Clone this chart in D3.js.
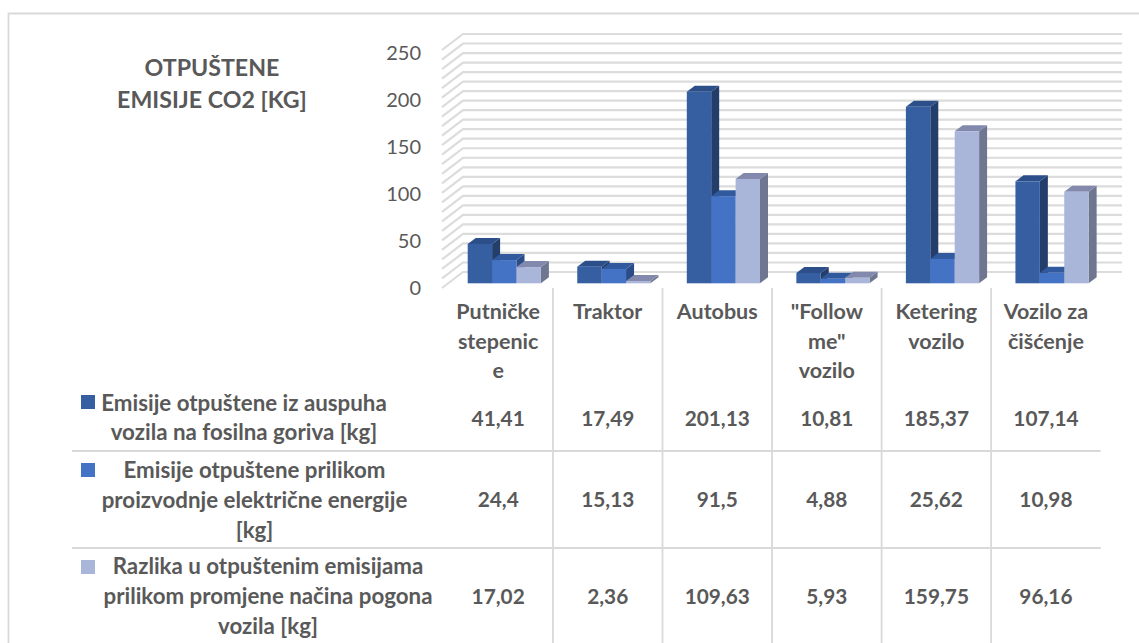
<!DOCTYPE html>
<html>
<head>
<meta charset="utf-8">
<title>Otpuštene emisije CO2</title>
<style>
html, body { margin: 0; padding: 0; background: #fff; overflow: hidden; }
text { font-family: Lato, 'Open Sans', sans-serif; fill: #595959; }
.tbl { font-weight: 700; font-size: 21.5px; text-anchor: middle; }
.val { font-weight: 700; font-size: 20.8px; text-anchor: middle; }
.leg { font-weight: 700; font-size: 22.3px; text-anchor: middle; }
.ttl { font-weight: 700; font-size: 23.2px; text-anchor: middle; }
.yaxis text { font-size: 20px; font-family: Lato, sans-serif; fill: #595959; }
.yaxis path { display: none; }
.grid { stroke: #dcdcdc; stroke-width: 2.2px; fill: none; }
.rule { stroke: #d9d9d9; stroke-width: 1.8px; fill: none; }
</style>
<script src="https://d3js.org/d3.v7.min.js"></script>
</head>
<body>
<svg width="1139" height="643"></svg>
<script>

var categories = ["Putničke stepenice", "Traktor", "Autobus", "\"Follow me\" vozilo", "Ketering vozilo", "Vozilo za čišćenje"];
var categoryLines = [["Putničke", "stepenic", "e"], ["Traktor"], ["Autobus"], ["\"Follow", "me\"", "vozilo"], ["Ketering", "vozilo"], ["Vozilo za", "čišćenje"]];

var fossil = [41.41, 17.49, 201.13, 10.81, 185.37, 107.14];
var electric = [24.4, 15.13, 91.5, 4.88, 25.62, 10.98];
var difference = [17.02, 2.36, 109.63, 5.93, 159.75, 96.16];
var valueLabels = [
  ["41,41", "17,49", "201,13", "10,81", "185,37", "107,14"],
  ["24,4", "15,13", "91,5", "4,88", "25,62", "10,98"],
  ["17,02", "2,36", "109,63", "5,93", "159,75", "96,16"]
];
var seriesNames = [
  ["Emisije otpuštene iz auspuha", "vozila na fosilna goriva [kg]"],
  ["Emisije otpuštene prilikom", "proizvodnje električne energije", "[kg]"],
  ["Razlika u otpuštenim emisijama", "prilikom promjene načina pogona", "vozila [kg]"]
];
var series = [fossil, electric, difference];

// front, side, top of each 3d bar
var colors = [
  ["#365fa2", "#243e6b", "#2c4f8a"],
  ["#4472c4", "#2a4c88", "#315a9e"],
  ["#a9b6da", "#6e778f", "#8289ac"]
];

var svg = d3.select("svg");

var x0 = d3.scaleBand().domain(categories).range([443.4, 1100.7]);
var x1 = d3.scaleBand().domain([0, 1, 2]).range([24.3, 97.5]);
var h = d3.scaleLinear().domain([0, 250]).range([0, 238]);

// frame
svg.append("path").attr("class", "rule").attr("d", "M8.5,643V13.5H1139");

// back wall + floor side gridlines
var wallBase = 272, frontBase = 288, wallX = 463, frontX = 442, wallEnd = 1122;
svg.append("g").selectAll("path")
  .data(h.ticks(25))
  .enter().append("path")
    .attr("class", "grid")
    .attr("d", function(d) {
      return "M" + frontX + "," + (frontBase - h(d)) +
             "L" + wallX + "," + (wallBase - h(d)) +
             "H" + wallEnd;
    });

// y axis
var yAxis = d3.scaleLinear().domain([0, 250]).range([287, 52]);
svg.append("g")
    .attr("class", "yaxis")
    .attr("transform", "translate(424,0)")
    .call(d3.axisLeft(yAxis).tickValues([0, 50, 100, 150, 200, 250]).tickSize(0).tickPadding(3))
    .selectAll("text").attr("dy", "0.35em");

// bars
var barBase = 283.3, dx = 8, dy = 6;
series.forEach(function(values, s) {
  var g = svg.append("g");
  var w = x1.bandwidth();
  var bars = g.selectAll("g")
    .data(values)
    .enter().append("g")
      .attr("transform", function(d, i) { return "translate(" + (x0(categories[i]) + x1(s)) + ",0)"; });

  bars.append("path")
      .attr("fill", colors[s][1])
      .attr("d", function(d) {
        var t = barBase - h(d);
        return "M" + w + "," + t + "l" + dx + "," + (-dy) + "V" + (barBase - dy) + "L" + w + "," + barBase + "Z";
      });
  bars.append("path")
      .attr("fill", colors[s][2])
      .attr("d", function(d) {
        var t = barBase - h(d);
        return "M0," + t + "l" + dx + "," + (-dy) + "h" + w + "l" + (-dx) + "," + dy + "Z";
      });
  bars.append("rect")
      .attr("y", function(d) { return barBase - h(d); })
      .attr("width", w)
      .attr("height", function(d) { return h(d); })
      .attr("fill", colors[s][0]);
});

// data table rules
var rowRules = [451, 548];
svg.append("g").selectAll("path")
  .data(rowRules)
  .enter().append("path")
    .attr("class", "rule")
    .attr("d", function(d) { return "M72," + d + "H1100.7"; });
svg.append("g").selectAll("path")
  .data(categories.slice(1))
  .enter().append("path")
    .attr("class", "rule")
    .attr("d", function(d) { return "M" + x0(d) + ",288V643"; });

// category labels
var catBaselines = [319, 348.5, 378];
categoryLines.forEach(function(lines, i) {
  svg.append("g").selectAll("text")
    .data(lines)
    .enter().append("text")
      .attr("class", "tbl")
      .attr("x", x0(categories[i]) + x0.bandwidth() / 2)
      .attr("y", function(d, j) { return catBaselines[j]; })
      .text(function(d) { return d; });
});

// value cells
var valueBaselines = [425.5, 507, 604];
valueLabels.forEach(function(row, s) {
  svg.append("g").selectAll("text")
    .data(row)
    .enter().append("text")
      .attr("class", "val")
      .attr("x", function(d, i) { return x0(categories[i]) + x0.bandwidth() / 2; })
      .attr("y", valueBaselines[s])
      .text(function(d) { return d; });
});

// legend column
var legendBaselines = [[411, 439.5], [477.5, 507.5, 537.5], [574, 604, 633.5]];
var legendCenters = [244, 254.5, 268];
var swatchY = [395, 463, 560];
seriesNames.forEach(function(lines, s) {
  svg.append("rect")
      .attr("x", 81).attr("y", swatchY[s])
      .attr("width", 14).attr("height", 14)
      .attr("fill", colors[s][0]);
  svg.append("g").selectAll("text")
    .data(lines)
    .enter().append("text")
      .attr("class", "leg")
      .attr("x", legendCenters[s])
      .attr("y", function(d, j) { return legendBaselines[s][j]; })
      .text(function(d) { return d; });
});

// title
svg.append("text").attr("class", "ttl").attr("x", 212).attr("y", 76).text("OTPUŠTENE");
svg.append("text").attr("class", "ttl").attr("x", 212).attr("y", 108).text("EMISIJE CO2 [KG]");

</script>
</body>
</html>
